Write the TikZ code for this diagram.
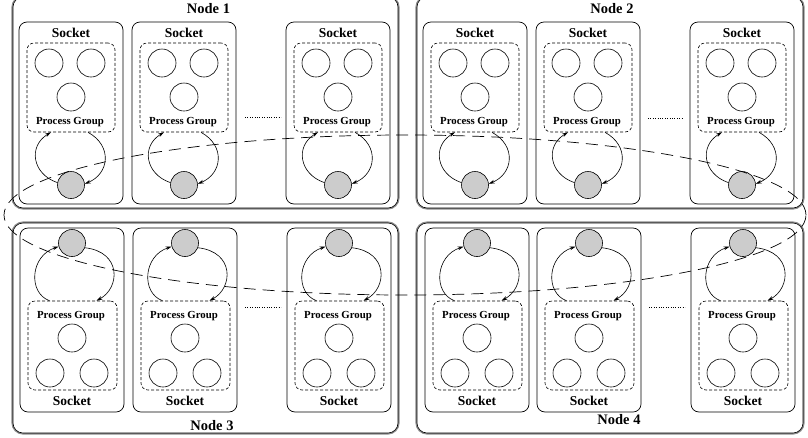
\documentclass[tikz,border=0pt]{standalone}
\usepackage{fontspec}
\setmainfont{Liberation Serif}
\usetikzlibrary{arrows.meta}

\tikzset{
  nodeouter/.style={draw=black!45, line width=1.4pt, rounded corners=11pt},
  nodeinner/.style={draw=black, line width=0.6pt, rounded corners=10pt},
  sockbox/.style={draw=black, line width=0.7pt, rounded corners=8pt, inner sep=0pt},
  groupbox/.style={draw=black, line width=0.6pt, dash pattern=on 3pt off 2pt, rounded corners=7pt, inner sep=0pt},
  proc/.style={circle, draw=black, line width=0.6pt, minimum size=28pt, inner sep=0pt},
  master/.style={circle, draw=black, line width=0.6pt, fill=black!20, minimum size=27pt, inner sep=0pt},
  loop/.style={draw=black, line width=0.6pt},
  loopend/.style={loop, -{Stealth[length=6pt,width=3.6pt]}},
  socklabel/.style={font=\fontsize{13.5}{15}\selectfont\bfseries, anchor=base, inner sep=0pt},
  grouplabel/.style={font=\fontsize{10.8}{12}\selectfont\bfseries, anchor=base, inner sep=0pt},
  nodelabel/.style={font=\fontsize{14.5}{16}\selectfont\bfseries, anchor=base, inner sep=0pt},
  ring/.style={draw=black, line width=0.7pt, dash pattern=on 12pt off 7pt},
  gapdots/.style={draw=black, line width=0.6pt, dash pattern=on 0.8pt off 1.6pt},
}

% socket with its master process below the group (upper row)
\newcommand\topsock[2]{%
  \begin{scope}[shift={(#1,22)}]
    \node[sockbox, minimum width=104pt, minimum height=182pt] (sb#2) at (52,91) {};
    \node[socklabel] (sl#2) at (52,15.7) {Socket};
    \node[groupbox, minimum width=88pt, minimum height=89pt] (pg#2) at (52,65.5) {};
    \node[proc] (pa#2) at (30,41) {};
    \node[proc] (pb#2) at (72,41) {};
    \node[proc] (pc#2) at (52,75) {};
    \node[grouplabel] (gl#2) at (51,102) {Process Group};
    \node[master] (gc#2) at (52,163) {};
    \draw[loopend] (gc#2.170) .. controls (13,152) and (9,124) .. ([xshift=-20pt]pg#2.south);
    \draw[loopend] ([xshift=17pt]pg#2.south) .. controls (94,124) and (90,152) .. (gc#2.5);
  \end{scope}}

% socket with its master process above the group (lower row)
\newcommand\botsock[2]{%
  \begin{scope}[shift={(#1,228)}]
    \node[sockbox, minimum width=104pt, minimum height=184pt] (sb#2) at (52,92) {};
    \node[master] (gc#2) at (52,15) {};
    \node[groupbox, minimum width=89pt, minimum height=89pt] (pg#2) at (52.5,117.5) {};
    \node[grouplabel] (gl#2) at (51,90) {Process Group};
    \node[proc] (pa#2) at (52,110) {};
    \node[proc] (pb#2) at (30,145) {};
    \node[proc] (pc#2) at (74,145) {};
    \node[socklabel] (sl#2) at (52,177) {Socket};
    \draw[loopend] ([xshift=-23pt]pg#2.north) .. controls (8,65) and (10,28) .. (gc#2.195);
    \draw[loopend] (gc#2.340) .. controls (102,24) and (100,60) .. ([xshift=24pt]pg#2.north);
  \end{scope}}

\begin{document}
\begin{tikzpicture}[x=1pt, y=-1pt]
  \useasboundingbox (0,0) rectangle (808,437);

  % compute nodes
  \foreach \xa/\ya/\xb/\yb in {13/-3/398/208, 417/-3/803/208, 13/223/398/433, 417/223/803/433}{
    \draw[nodeouter] (\xa-0.9,\ya-0.9) rectangle (\xb+0.9,\yb+0.9);
    \draw[nodeinner] (\xa,\ya) rectangle (\xb,\yb);
  }
  \node[nodelabel] (n1) at (208.5,13.5) {Node 1};
  \node[nodelabel] (n2) at (612,13.5) {Node 2};
  \node[nodelabel] (n3) at (212,430) {Node 3};
  \node[nodelabel] (n4) at (619,424) {Node 4};

  % sockets
  \topsock{19}{a}
  \topsock{132}{b}
  \topsock{286}{c}
  \topsock{423}{d}
  \topsock{536}{e}
  \topsock{690}{f}
  \botsock{20}{g}
  \botsock{133}{h}
  \botsock{287}{i}
  \botsock{425}{j}
  \botsock{537}{k}
  \botsock{691}{l}

  % elided sockets
  \draw[gapdots] (245,117) -- (281,117);
  \draw[gapdots] (648,118) -- (683,118);
  \draw[gapdots] (245,307) -- (281,307);
  \draw[gapdots] (649,307) -- (685,307);

  % ring through the master processes
  \coordinate (ringc) at (405,215);
  \draw[ring] (ringc) ellipse [x radius=401pt, y radius=80pt];
\end{tikzpicture}
\end{document}
